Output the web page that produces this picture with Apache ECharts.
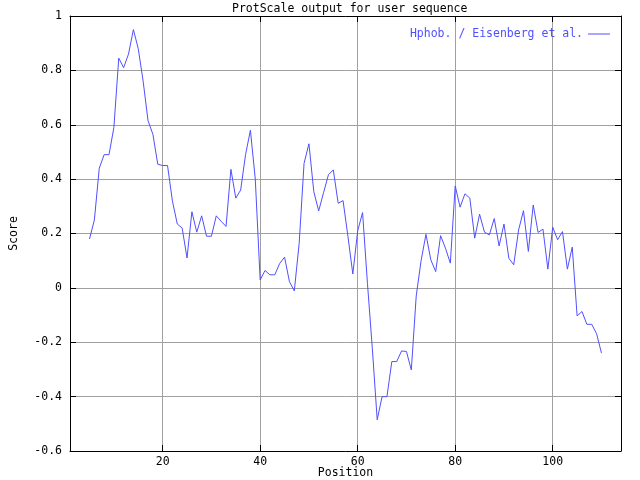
<!DOCTYPE html>
<html>
<head>
<meta charset="utf-8">
<script src="https://cdn.jsdelivr.net/npm/echarts@6/dist/echarts.min.js"></script>
<style>
  html, body { margin: 0; padding: 0; background: #fff; }
  #chart { width: 640px; height: 480px; }
</style>
</head>
<body>
<div id="chart"></div>
<script>
var positions = [5,6,7,8,9,10,11,12,13,14,15,16,17,18,19,20,21,22,23,24,25,26,27,28,29,30,
  31,32,33,34,35,36,37,38,39,40,41,42,43,44,45,46,47,48,49,50,51,52,53,54,55,56,57,58,59,60,
  61,62,63,64,65,66,67,68,69,70,71,72,73,74,75,76,77,78,79,80,81,82,83,84,85,86,87,88,89,90,
  91,92,93,94,95,96,97,98,99,100,101,102,103,104,105,106,107,108,109,110];
var scores = [0.18,0.25,0.44,0.49,0.49,0.59,0.845,0.81,0.86,0.95,0.88,0.76,0.615,0.565,0.455,0.45,
  0.45,0.32,0.235,0.22,0.11,0.28,0.205,0.265,0.19,0.19,0.265,0.245,0.226,0.436,0.33,0.36,0.49,0.58,
  0.40,0.029,0.064,0.048,0.048,0.09,0.113,0.023,-0.011,0.164,0.458,0.53,0.354,0.283,0.35,0.416,0.434,
  0.311,0.321,0.189,0.051,0.21,0.277,0.017,-0.222,-0.485,-0.40,-0.40,-0.271,-0.271,-0.232,-0.234,
  -0.302,-0.03,0.10,0.197,0.103,0.06,0.192,0.146,0.091,0.375,0.297,0.346,0.33,0.183,0.271,0.205,
  0.195,0.255,0.154,0.235,0.109,0.085,0.213,0.284,0.134,0.305,0.204,0.216,0.069,0.223,0.177,0.207,
  0.069,0.15,-0.103,-0.087,-0.134,-0.134,-0.169,-0.24];
var xTicks = [20, 40, 60, 80, 100];
var seriesName = 'Hphob. / Eisenberg et al.';
var titleText = 'ProtScale output for user sequence';

var FONT = 'DejaVu Sans Mono';
var data = positions.map(function (p, i) { return [p, scores[i]]; });

var chart = echarts.init(document.getElementById('chart'), null, { renderer: 'canvas' });
var baseX = {
  type: 'value', min: 1, max: 114,
  axisLine: { show: true, onZero: false, lineStyle: { color: '#000', width: 1 } },
  axisTick: { show: true, inside: true, length: 6, customValues: xTicks, lineStyle: { color: '#000' } },
  splitLine: { show: false }
};
var baseY = {
  type: 'value', min: -0.6, max: 1, interval: 0.2,
  axisLine: { show: true, onZero: false, lineStyle: { color: '#000', width: 1 } },
  axisTick: { show: true, inside: true, length: 6, lineStyle: { color: '#000' } },
  splitLine: { show: false }
};
chart.setOption({
  animation: false,
  backgroundColor: '#fff',
  title: {
    text: titleText, left: 227, top: -2,
    textStyle: { fontFamily: FONT, fontSize: 11.5, fontWeight: 'normal', color: '#000' }
  },
  legend: {
    data: [seriesName], right: 25, top: 23, align: 'right',
    icon: 'rect', itemWidth: 22, itemHeight: 1, itemGap: 0,
    itemStyle: { color: '#5050ff', borderWidth: 0 },
    textStyle: { fontFamily: FONT, fontSize: 11.5, color: '#5050ff' }
  },
  grid: { left: 70, right: 19, top: 16, bottom: 29, containLabel: false, outerBoundsMode: 'none' },
  xAxis: [
    Object.assign({}, baseX, {
      position: 'bottom',
      name: 'Position', nameLocation: 'middle', nameGap: 16, nameMoveOverlap: false,
      nameTextStyle: { fontFamily: FONT, fontSize: 11.5, color: '#000' },
      axisLabel: { show: true, customValues: xTicks, margin: 5, fontFamily: FONT, fontSize: 11.5, color: '#000' },
      splitLine: { show: true, lineStyle: { color: '#a0a0a0', width: 1 } }
    }),
    Object.assign({}, baseX, { position: 'top', axisLabel: { show: false } })
  ],
  yAxis: [
    Object.assign({}, baseY, {
      position: 'left',
      name: 'Score', nameLocation: 'middle', nameGap: 50, nameRotate: 90, nameMoveOverlap: false,
      nameTextStyle: { fontFamily: FONT, fontSize: 11.5, color: '#000' },
      axisLabel: { show: true, margin: 8, fontFamily: FONT, fontSize: 11.5, color: '#000' },
      splitLine: { show: true, lineStyle: { color: '#a0a0a0', width: 1 } }
    }),
    Object.assign({}, baseY, { position: 'right', axisLabel: { show: false } })
  ],
  series: [{
    name: seriesName, type: 'line', data: data,
    xAxisIndex: 0, yAxisIndex: 0,
    symbol: 'none', showSymbol: false,
    lineStyle: { color: '#5050ff', width: 1 },
    itemStyle: { color: '#5050ff' }
  }]
});
</script>
</body>
</html>
